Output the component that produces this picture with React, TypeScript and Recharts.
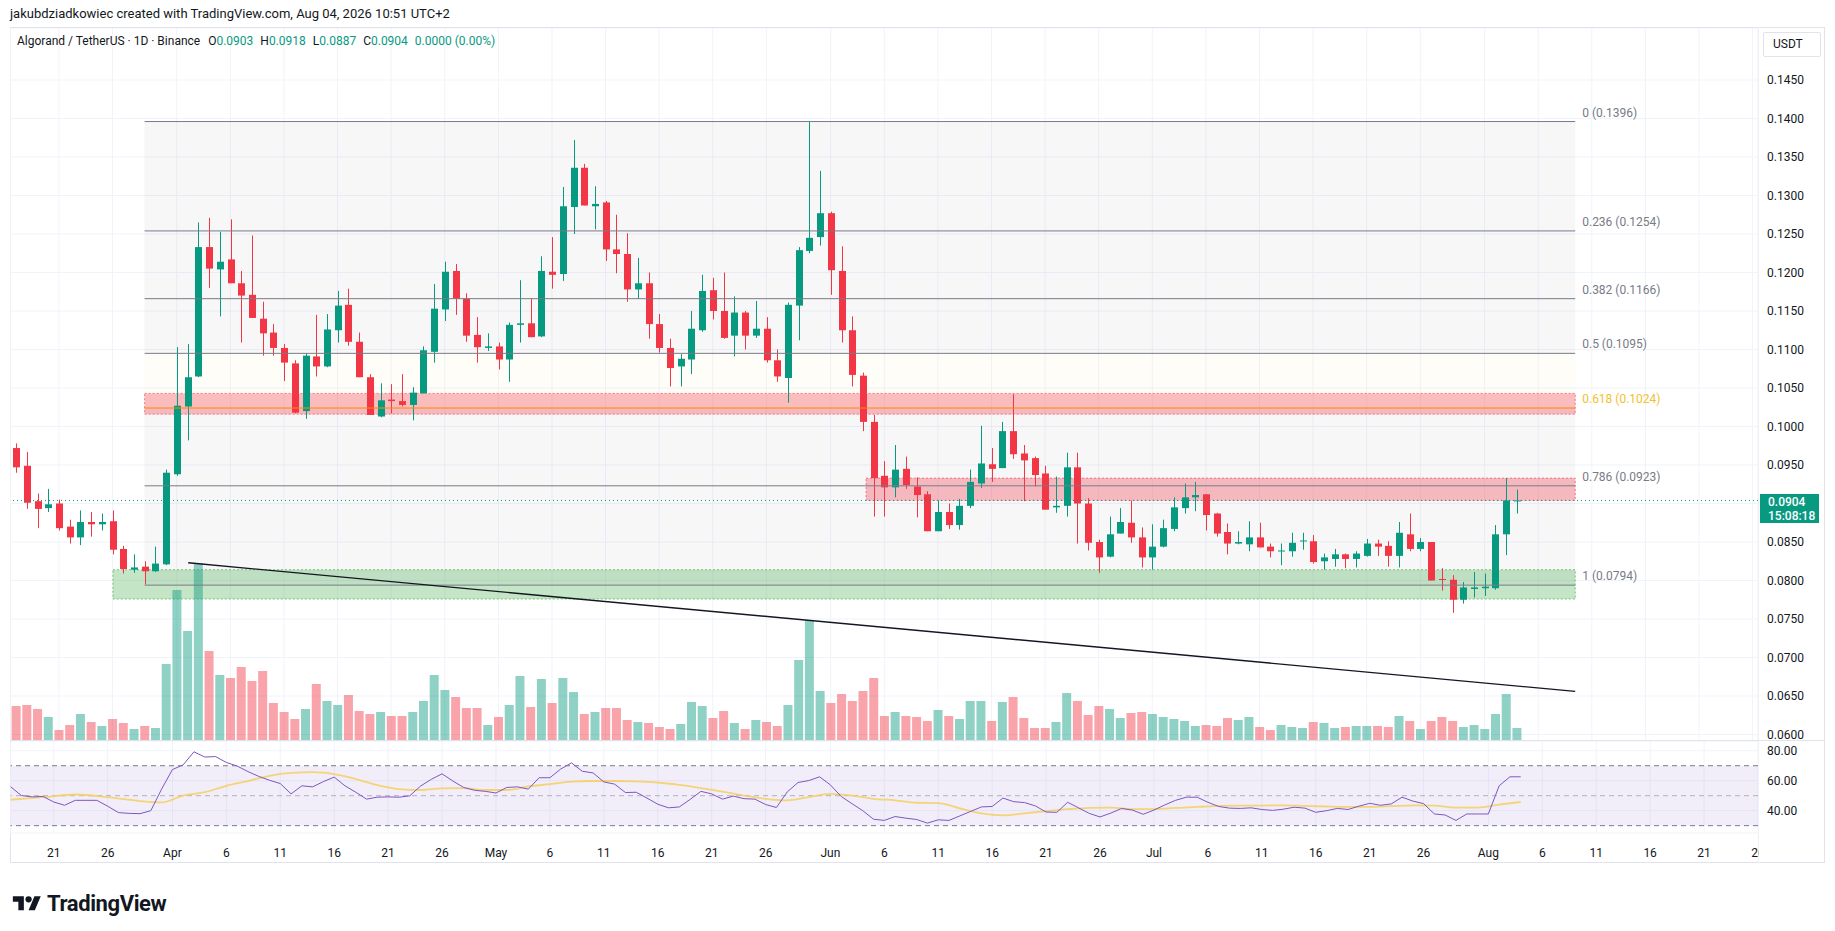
import React from 'react';
import {
  ComposedChart, Bar, Line, XAxis, YAxis, CartesianGrid, ReferenceArea, ReferenceLine, Cell,
} from 'recharts';

// ---------- categories ----------
const monthSpans: [string, number, number][] = [
  ['Mar', 17, 31], ['Apr', 1, 30], ['May', 1, 31], ['Jun', 1, 30], ['Jul', 1, 31], ['Aug', 1, 26],
];
const dates: string[] = [];
monthSpans.forEach(([m, a, b]) => { for (let d = a; d <= b; d++) dates.push(`${m} ${d}`); });
const tickDays = ['1', '6', '11', '16', '21', '26'];
const tickDates = dates.filter((s) => tickDays.includes(s.split(' ')[1]));

// ---------- daily candles (Mar 17 .. Aug 4) ----------
const opens = [
  0.0972, 0.0949, 0.0903, 0.0894, 0.0900, 0.0870, 0.0856, 0.0876, 0.0873, 0.0877,
  0.0841, 0.0814, 0.0818, 0.0812, 0.0821, 0.0938, 0.1026, 0.1065, 0.1233, 0.1204,
  0.1217, 0.1186, 0.1171, 0.1140, 0.1122, 0.1102, 0.1082, 0.1020, 0.1091, 0.1078,
  0.1125, 0.1158, 0.1110, 0.1064, 0.1013, 0.1035, 0.1033, 0.1028, 0.1043, 0.1097,
  0.1152, 0.1202, 0.1166, 0.1119, 0.1102, 0.1104, 0.1087, 0.1132, 0.1134, 0.1117,
  0.1201, 0.1198, 0.1285, 0.1336, 0.1286, 0.1291, 0.1230, 0.1224, 0.1178, 0.1186,
  0.1133, 0.1102, 0.1078, 0.1087, 0.1125, 0.1177, 0.1150, 0.1118, 0.1148, 0.1118,
  0.1127, 0.1086, 0.1063, 0.1157, 0.1228, 0.1246, 0.1277, 0.1202, 0.1125, 0.1066,
  0.1006, 0.0936, 0.0921, 0.0945, 0.0922, 0.0912, 0.0864, 0.0889, 0.0872, 0.0897,
  0.0926, 0.0951, 0.0946, 0.0994, 0.0965, 0.0959, 0.0939, 0.0895, 0.0897, 0.0947,
  0.0900, 0.0850, 0.0831, 0.0861, 0.0875, 0.0856, 0.0830, 0.0844, 0.0867, 0.0894,
  0.0908, 0.0912, 0.0887, 0.0863, 0.0848, 0.0847, 0.0856, 0.0844, 0.0838, 0.0838,
  0.0851, 0.0851, 0.0825, 0.0828, 0.0834, 0.0828, 0.0832, 0.0848, 0.0845, 0.0832,
  0.0860, 0.0841, 0.0850, 0.0802, 0.0801, 0.0775, 0.0789, 0.0790, 0.0790, 0.0860,
  0.0903,
];
const highs = [
  0.0978, 0.0967, 0.0913, 0.0919, 0.0905, 0.0879, 0.0891, 0.0889, 0.0887, 0.0891,
  0.0845, 0.0834, 0.0825, 0.0844, 0.0944, 0.1103, 0.1107, 0.1265, 0.1271, 0.1253,
  0.1269, 0.1202, 0.1248, 0.1162, 0.1133, 0.1107, 0.1086, 0.1095, 0.1145, 0.1146,
  0.1176, 0.1179, 0.1122, 0.1068, 0.1056, 0.1055, 0.1068, 0.1051, 0.1104, 0.1185,
  0.1214, 0.1211, 0.1173, 0.1142, 0.1121, 0.1109, 0.1135, 0.1190, 0.1166, 0.1221,
  0.1246, 0.1311, 0.1372, 0.1341, 0.1312, 0.1293, 0.1275, 0.1251, 0.1219, 0.1200,
  0.1146, 0.1114, 0.1094, 0.1150, 0.1197, 0.1193, 0.1200, 0.1169, 0.1150, 0.1163,
  0.1142, 0.1100, 0.1161, 0.1233, 0.1396, 0.1332, 0.1279, 0.1234, 0.1143, 0.1070,
  0.1015, 0.0955, 0.0976, 0.0961, 0.0934, 0.0916, 0.0904, 0.0900, 0.0906, 0.0944,
  0.1001, 0.0972, 0.1006, 0.1042, 0.0976, 0.0961, 0.0949, 0.0935, 0.0966, 0.0966,
  0.0907, 0.0853, 0.0883, 0.0894, 0.0904, 0.0869, 0.0873, 0.0879, 0.0908, 0.0926,
  0.0928, 0.0912, 0.0888, 0.0874, 0.0864, 0.0877, 0.0875, 0.0848, 0.0848, 0.0862,
  0.0862, 0.0859, 0.0835, 0.0841, 0.0835, 0.0838, 0.0854, 0.0853, 0.0851, 0.0876,
  0.0887, 0.0855, 0.0850, 0.0816, 0.0807, 0.0798, 0.0811, 0.0809, 0.0872, 0.0933,
  0.0918,
];
const lows = [
  0.0940, 0.0893, 0.0868, 0.0889, 0.0865, 0.0848, 0.0846, 0.0857, 0.0865, 0.0834,
  0.0809, 0.0810, 0.0795, 0.0811, 0.0820, 0.0936, 0.0982, 0.1064, 0.1180, 0.1143,
  0.1186, 0.1109, 0.1141, 0.1092, 0.1092, 0.1059, 0.1017, 0.1010, 0.1065, 0.1077,
  0.1109, 0.1105, 0.1064, 0.1015, 0.1012, 0.1017, 0.1026, 0.1008, 0.1043, 0.1083,
  0.1137, 0.1145, 0.1110, 0.1083, 0.1098, 0.1074, 0.1058, 0.1109, 0.1116, 0.1116,
  0.1179, 0.1189, 0.1250, 0.1287, 0.1256, 0.1215, 0.1199, 0.1162, 0.1166, 0.1114,
  0.1096, 0.1052, 0.1052, 0.1068, 0.1123, 0.1139, 0.1114, 0.1091, 0.1100, 0.1115,
  0.1083, 0.1058, 0.1031, 0.1112, 0.1225, 0.1235, 0.1171, 0.1109, 0.1052, 0.0994,
  0.0883, 0.0883, 0.0908, 0.0919, 0.0882, 0.0864, 0.0864, 0.0867, 0.0866, 0.0894,
  0.0920, 0.0928, 0.0946, 0.0958, 0.0903, 0.0922, 0.0892, 0.0888, 0.0883, 0.0848,
  0.0839, 0.0810, 0.0830, 0.0861, 0.0849, 0.0817, 0.0814, 0.0843, 0.0864, 0.0887,
  0.0890, 0.0865, 0.0857, 0.0834, 0.0847, 0.0838, 0.0843, 0.0830, 0.0820, 0.0831,
  0.0840, 0.0822, 0.0814, 0.0818, 0.0816, 0.0817, 0.0831, 0.0832, 0.0818, 0.0817,
  0.0838, 0.0838, 0.0800, 0.0787, 0.0758, 0.0770, 0.0778, 0.0780, 0.0788, 0.0833,
  0.0887,
];
const closes = [
  0.0947, 0.0901, 0.0893, 0.0899, 0.0868, 0.0856, 0.0876, 0.0873, 0.0876, 0.0840,
  0.0815, 0.0817, 0.0812, 0.0822, 0.0940, 0.1027, 0.1064, 0.1233, 0.1205, 0.1214,
  0.1186, 0.1170, 0.1141, 0.1121, 0.1102, 0.1083, 0.1018, 0.1092, 0.1078, 0.1126,
  0.1157, 0.1110, 0.1064, 0.1015, 0.1034, 0.1033, 0.1028, 0.1044, 0.1099, 0.1153,
  0.1201, 0.1166, 0.1118, 0.1103, 0.1104, 0.1087, 0.1132, 0.1134, 0.1116, 0.1202,
  0.1197, 0.1286, 0.1336, 0.1287, 0.1289, 0.1230, 0.1224, 0.1178, 0.1186, 0.1133,
  0.1102, 0.1076, 0.1088, 0.1127, 0.1176, 0.1150, 0.1115, 0.1148, 0.1118, 0.1127,
  0.1086, 0.1065, 0.1158, 0.1229, 0.1245, 0.1277, 0.1203, 0.1125, 0.1067, 0.1006,
  0.0933, 0.0921, 0.0944, 0.0924, 0.0911, 0.0864, 0.0889, 0.0872, 0.0897, 0.0928,
  0.0952, 0.0945, 0.0994, 0.0964, 0.0956, 0.0937, 0.0892, 0.0897, 0.0947, 0.0900,
  0.0849, 0.0830, 0.0860, 0.0876, 0.0856, 0.0830, 0.0844, 0.0868, 0.0895, 0.0908,
  0.0911, 0.0885, 0.0861, 0.0848, 0.0850, 0.0856, 0.0843, 0.0838, 0.0839, 0.0849,
  0.0852, 0.0824, 0.0830, 0.0834, 0.0828, 0.0835, 0.0848, 0.0844, 0.0832, 0.0862,
  0.0841, 0.0850, 0.0800, 0.0801, 0.0775, 0.0791, 0.0791, 0.0792, 0.0860, 0.0904,
  0.0904,
];
// volume (millions ALGO, approx.)
const volumes = [
  35, 36, 32, 24, 11, 16, 27, 19, 15, 22,
  18, 12, 15, 13, 77, 151, 110, 178, 90, 66,
  63, 74, 60, 70, 38, 29, 22, 32, 57, 40,
  36, 46, 30, 27, 29, 25, 25, 29, 40, 66,
  51, 44, 33, 33, 16, 24, 36, 65, 34, 62,
  38, 63, 49, 27, 29, 33, 33, 21, 19, 18,
  14, 12, 17, 39, 35, 23, 30, 18, 12, 21,
  19, 15, 36, 81, 121, 50, 38, 47, 40, 50,
  63, 25, 29, 25, 24, 20, 31, 25, 22, 40,
  40, 20, 39, 44, 23, 13, 13, 19, 48, 40,
  26, 35, 32, 23, 28, 29, 27, 24, 22, 20,
  15, 16, 15, 23, 21, 24, 14, 11, 16, 14,
  13, 19, 18, 13, 14, 15, 15, 15, 14, 25,
  20, 12, 20, 24, 20, 14, 16, 12, 27, 47,
  13,
];
// RSI(14)
const rsiValues = [
  56.0, 50.1, 49.2, 49.5, 45.8, 43.6, 46.9, 46.9, 46.9, 43.0,
  38.7, 38.2, 38.0, 40.0, 54.4, 67.4, 70.6, 79.3, 75.8, 76.1,
  72.2, 69.8, 66.1, 62.9, 60.3, 58.1, 51.2, 56.6, 55.9, 59.4,
  62.4, 56.6, 52.3, 47.7, 49.0, 49.2, 49.0, 49.9, 56.4, 60.9,
  64.6, 59.8, 55.5, 53.6, 52.9, 51.8, 55.5, 55.9, 54.4, 62.0,
  62.0, 67.8, 71.9, 66.3, 65.2, 59.2, 57.7, 52.1, 52.3, 48.4,
  44.3, 41.9, 42.5, 47.5, 52.9, 51.2, 47.7, 49.7, 48.0, 47.7,
  44.1, 42.1, 52.5, 58.8, 60.1, 62.6, 57.2, 49.5, 44.7, 40.0,
  34.3, 33.5, 36.1, 35.0, 34.1, 31.7, 33.9, 33.5, 36.5, 39.5,
  42.5, 42.8, 48.4, 46.0, 45.4, 43.2, 39.1, 38.9, 45.6, 41.9,
  38.2, 35.8, 38.4, 41.5, 40.4, 37.6, 40.4, 43.8, 46.9, 49.0,
  49.0, 45.6, 42.8, 41.7, 41.5, 41.9, 40.8, 40.2, 41.0, 42.3,
  41.7, 38.9, 40.0, 41.5, 40.8, 43.0, 44.9, 43.6, 44.5, 49.0,
  46.4, 44.7, 37.8, 37.1, 33.5, 37.8, 37.8, 37.8, 56.6, 62.6,
  62.6,
];
// RSI-based MA, read every second day
const rsiMaDays = [
  0, 3, 6, 9, 12, 14, 16, 18, 20, 22, 24, 26, 28, 30, 32, 34, 36, 38, 40, 42, 44, 46, 48, 50,
  52, 54, 56, 58, 60, 62, 64, 66, 68, 70, 72, 74, 76, 78, 80, 82, 84, 86, 88, 90, 92, 94, 96,
  98, 100, 102, 104, 106, 108, 110, 112, 114, 116, 118, 120, 122, 124, 126, 128, 130, 132,
  134, 136, 138, 140,
];
const rsiMaValues = [
  47.3, 49.0, 50.8, 49.0, 46.4, 45.5, 50.1, 52.3, 56.6, 59.8, 63.3, 65.2, 65.7, 64.4, 61.1,
  57.0, 54.4, 53.8, 54.9, 55.1, 53.8, 53.8, 56.2, 57.7, 59.4, 59.8, 59.8, 59.6, 58.8, 57.2,
  55.1, 52.7, 50.1, 47.9, 46.9, 49.0, 51.2, 50.1, 47.9, 46.9, 45.3, 45.1, 41.5, 38.2, 36.9,
  38.2, 39.7, 41.0, 41.9, 42.1, 41.0, 41.0, 41.9, 42.5, 43.2, 43.4, 43.4, 43.6, 43.2, 42.8,
  42.5, 42.5, 43.0, 43.6, 43.4, 42.1, 42.1, 44.1, 45.8,
];

// Fibonacci retracement levels
const fibRatios = ['0', '0.236', '0.382', '0.5', '0.618', '0.786', '1'];
const fibPrices = [0.1396, 0.1254, 0.1166, 0.1095, 0.1024, 0.0923, 0.0794];
const priceTicks = [
  0.06, 0.065, 0.07, 0.075, 0.08, 0.085, 0.09, 0.095, 0.1, 0.105, 0.11, 0.115, 0.12, 0.125,
  0.13, 0.135, 0.14, 0.145,
];
const rsiTicks = [40, 60, 80];
const lastPrice = 0.0904;

// ---------- build rows ----------
const maMap = new Map<number, number>();
rsiMaDays.forEach((d, k) => maMap.set(d, rsiMaValues[k]));
const rows = dates.map((date, i) => {
  const has = i < opens.length;
  return {
    i,
    date,
    o: has ? opens[i] : null,
    h: has ? highs[i] : null,
    l: has ? lows[i] : null,
    c: has ? closes[i] : null,
    range: has ? [lows[i], highs[i]] : null,
    vol: has ? volumes[i] : null,
    rsi: has ? rsiValues[i] : null,
    rsiMa: maMap.has(i) ? maMap.get(i) : null,
  };
});

const UP = '#089981';
const DOWN = '#F23645';
const FONT = 'Roboto, "Noto Sans", "DejaVu Sans", sans-serif';

const Candle = (props: any) => {
  const { x, y, width, height, payload } = props;
  if (!payload || payload.o == null || !isFinite(y) || !isFinite(height)) return null;
  const { o, h, l, c } = payload;
  const up = c >= o;
  const color = up ? UP : DOWN;
  const top = Math.min(y, y + height);
  const hh = Math.abs(height);
  const per = hh / Math.max(h - l, 1e-9);
  const yO = top + (h - o) * per;
  const yC = top + (h - c) * per;
  const bTop = Math.min(yO, yC);
  const bH = Math.max(1, Math.abs(yO - yC));
  const cx = Math.round(x + width / 2) + 0.5;
  return (
    <g>
      <line x1={cx} x2={cx} y1={top} y2={top + hh} stroke={color} strokeWidth={1} />
      <rect x={cx - 3.5} y={bTop} width={7} height={bH} fill={color} />
    </g>
  );
};

const FibLabel = (props: any) => {
  const { viewBox, text, color } = props;
  if (!viewBox) return null;
  return (
    <text x={viewBox.x + viewBox.width + 7} y={viewBox.y - 5} fill={color} fontSize={12} fontFamily={FONT}>
      {text}
    </text>
  );
};

const fmtDate = (v: string) => {
  const [m, d] = String(v).split(' ');
  return d === '1' ? m : d;
};

const FIB_END = 145.45;
const FIB_START = 12;

const fibFill = [
  'rgba(120,123,134,0.06)', 'rgba(120,123,134,0.06)', 'rgba(120,123,134,0.06)',
  'rgba(255,214,130,0.06)', 'rgba(120,123,134,0.06)', 'rgba(120,123,134,0.06)',
];

const TVLogo = () => (
  <svg width="30" height="22" viewBox="0 0 36 28">
    <path d="M14 22H7V11H0V4h14v18z" fill="#131722" />
    <path d="M28 22h-8l7.5-18h8L28 22z" fill="#131722" />
    <circle cx="20" cy="8" r="4" fill="#131722" />
  </svg>
);

export default function App() {
  return (
    <div
      style={{
        position: 'relative', width: 1835, height: 931, background: '#ffffff',
        fontFamily: FONT, color: '#131722', overflow: 'hidden',
      }}
    >
      <style>{'body{margin:0;}'}</style>

      <div style={{ position: 'absolute', left: 10, top: 6, fontSize: 13, whiteSpace: 'pre' }}>
        jakubdziadkowiec created with TradingView.com, Aug 04, 2026 10:51 UTC+2
      </div>

      {/* frame */}
      <div style={{ position: 'absolute', left: 10, top: 27, width: 1815, height: 836, border: '1px solid #E0E3EB', boxSizing: 'border-box' }} />

      {/* price pane */}
      <div style={{ position: 'absolute', left: 0, top: 28 }}>
        <ComposedChart width={1825} height={713} data={rows} margin={{ top: 0, right: 0, bottom: 0, left: 10.6 }}>
          <CartesianGrid xAxisId="cat" yAxisId="price" stroke="#F0F3FA" />
          <XAxis xAxisId="cat" dataKey="date" hide ticks={tickDates} interval={0} />
          <XAxis xAxisId="cat2" dataKey="date" hide />
          <XAxis xAxisId="num" type="number" dataKey="i" domain={[-0.5, 162.5]} hide allowDataOverflow />
          <YAxis
            yAxisId="price" orientation="right" width={67} domain={[0.05916, 0.15175]} allowDataOverflow
            ticks={priceTicks} interval={0} tickFormatter={(v: number) => v.toFixed(4)}
            axisLine={false} tickLine={false} tickSize={0} tickMargin={9}
            tick={{ fontSize: 12, fill: '#131722' }}
          />
          <YAxis yAxisId="vol" hide domain={[0, 713]} allowDataOverflow />

          {fibPrices.slice(0, -1).map((p, k) => (
            <ReferenceArea
              key={`ff${k}`} xAxisId="num" yAxisId="price" x1={FIB_START} x2={FIB_END}
              y1={fibPrices[k + 1]} y2={p} fill={fibFill[k]} fillOpacity={1} stroke="none"
            />
          ))}

          <Bar xAxisId="cat2" yAxisId="vol" dataKey="vol" barSize={9} isAnimationActive={false}>
            {rows.map((r, k) => (
              <Cell key={`v${k}`} fill={r.c != null && r.o != null && r.c >= r.o ? 'rgba(8,153,129,0.45)' : 'rgba(242,54,69,0.45)'} />
            ))}
          </Bar>

          <ReferenceArea xAxisId="num" yAxisId="price" x1={9.05} x2={FIB_END} y1={0.0776} y2={0.0814}
            fill="#4CAF50" fillOpacity={0.32} stroke="#4CAF50" strokeOpacity={0.7} strokeDasharray="2 2" />
          <ReferenceArea xAxisId="num" yAxisId="price" x1={FIB_START} x2={FIB_END} y1={0.1016} y2={0.1043}
            fill="#F23645" fillOpacity={0.32} stroke="#F23645" strokeOpacity={0.6} strokeDasharray="2 2" />
          <ReferenceArea xAxisId="num" yAxisId="price" x1={79.3} x2={FIB_END} y1={0.0904} y2={0.0933}
            fill="#F23645" fillOpacity={0.32} stroke="#F23645" strokeOpacity={0.6} strokeDasharray="2 2" />

          {fibPrices.map((p, k) => (
            <ReferenceLine
              key={`fl${k}`} xAxisId="num" yAxisId="price"
              segment={[{ x: FIB_START, y: p }, { x: FIB_END, y: p }]}
              stroke={fibRatios[k] === '0.618' ? '#FB8C00' : '#787B86'} strokeWidth={1}
              label={<FibLabel text={`${fibRatios[k]} (${p.toFixed(4)})`} color={fibRatios[k] === '0.618' ? '#F2C12E' : '#787B86'} />}
            />
          ))}

          <ReferenceLine xAxisId="num" yAxisId="price"
            segment={[{ x: 16.07, y: 0.0823 }, { x: FIB_END, y: 0.0656 }]} stroke="#131722" strokeWidth={1.4} />

          <ReferenceLine xAxisId="num" yAxisId="price" y={lastPrice} stroke={UP} strokeDasharray="1 3" strokeWidth={1} />

          <Bar xAxisId="cat" yAxisId="price" dataKey="range" barSize={9} shape={<Candle />} isAnimationActive={false} />
        </ComposedChart>
      </div>

      {/* pane separator */}
      <div style={{ position: 'absolute', left: 10, top: 740, width: 1815, height: 1, background: '#E0E3EB' }} />
      {/* axis separator */}
      <div style={{ position: 'absolute', left: 1758, top: 27, width: 1, height: 836, background: '#EEF0F4' }} />

      {/* RSI pane */}
      <div style={{ position: 'absolute', left: 0, top: 741 }}>
        <ComposedChart width={1825} height={122} data={rows} margin={{ top: 0, right: 0, bottom: 0, left: 10.6 }}>
          <CartesianGrid stroke="#F0F3FA" />
          <XAxis
            dataKey="date" ticks={tickDates} interval={0} tickFormatter={fmtDate} height={30}
            axisLine={false} tickLine={false} tickSize={0} tickMargin={15}
            tick={{ fontSize: 12, fill: '#131722' }}
          />
          <YAxis
            orientation="right" width={67} domain={[25.1, 86.5]} allowDataOverflow ticks={rsiTicks} interval={0}
            tickFormatter={(v: number) => v.toFixed(2)} axisLine={false} tickLine={false} tickSize={0} tickMargin={9}
            tick={{ fontSize: 12, fill: '#131722' }}
          />
          <ReferenceArea y1={30} y2={70} fill="#7E57C2" fillOpacity={0.1} stroke="none" />
          <ReferenceLine y={70} stroke="#787B86" strokeDasharray="5 4" />
          <ReferenceLine y={50} stroke="#9598A1" strokeOpacity={0.7} strokeDasharray="5 4" />
          <ReferenceLine y={30} stroke="#787B86" strokeDasharray="5 4" />
          <Line dataKey="rsiMa" type="monotone" stroke="#F5CF5F" strokeOpacity={0.85} strokeWidth={1.8} dot={false} connectNulls isAnimationActive={false} />
          <Line dataKey="rsi" type="linear" stroke="#7E57C2" strokeWidth={1} dot={false} isAnimationActive={false} />
        </ComposedChart>
      </div>
      {/* axis panel cover for clipped last date label */}
      <div style={{ position: 'absolute', left: 1759, top: 836, width: 65, height: 26, background: '#fff' }} />

      {/* legend */}
      <div style={{ position: 'absolute', left: 17, top: 34, fontSize: 12, whiteSpace: 'pre', lineHeight: '15px' }}>
        <span>Algorand / TetherUS · 1D · Binance</span>
        <span style={{ marginLeft: 8 }}>O</span><span style={{ color: UP }}>0.0903</span>
        <span style={{ marginLeft: 7 }}>H</span><span style={{ color: UP }}>0.0918</span>
        <span style={{ marginLeft: 7 }}>L</span><span style={{ color: UP }}>0.0887</span>
        <span style={{ marginLeft: 7 }}>C</span><span style={{ color: UP }}>0.0904</span>
        <span style={{ marginLeft: 7, color: UP }}>0.0000 (0.00%)</span>
      </div>

      {/* USDT box */}
      <div style={{ position: 'absolute', left: 1763, top: 32, width: 58, height: 25, border: '1px solid #E0E3EB', borderRadius: 2, boxSizing: 'border-box', fontSize: 12, lineHeight: '23px', paddingLeft: 9 }}>
        USDT
      </div>

      {/* last price label */}
      <div style={{ position: 'absolute', left: 1760, top: 494, width: 59, height: 29, background: UP, color: '#fff', fontSize: 12, lineHeight: '14px', paddingLeft: 8, paddingTop: 1, boxSizing: 'border-box', fontWeight: 500 }}>
        <div>0.0904</div>
        <div>15:08:18</div>
      </div>

      {/* footer logo */}
      <div style={{ position: 'absolute', left: 12, top: 891, display: 'flex', alignItems: 'center' }}>
        <TVLogo />
        <span style={{ marginLeft: 5, fontSize: 22, fontWeight: 700, letterSpacing: -0.4 }}>TradingView</span>
      </div>
    </div>
  );
}
